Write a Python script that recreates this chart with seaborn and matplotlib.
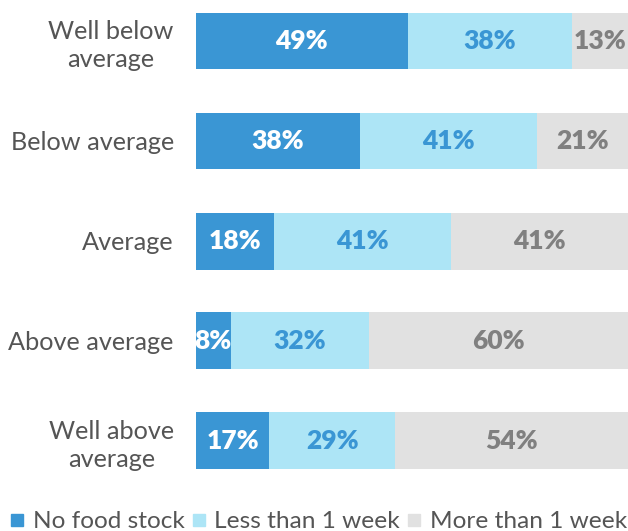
import matplotlib
matplotlib.use("Agg")
import matplotlib.pyplot as plt
from matplotlib.lines import Line2D
import numpy as np
import pandas as pd
import seaborn as sns

categories = ["Well below\naverage", "Below average", "Average", "Above average", "Well above\naverage"]
no_stock = [49, 38, 18, 8, 17]
less_week = [38, 41, 41, 32, 29]
more_week = [13, 21, 41, 60, 54]
series_names = ["No food stock", "Less than 1 week", "More than 1 week"]

c_dark = "#3a96d4"
c_light = "#ade5f6"
c_gray = "#e1e1e1"
txt_gray = "#555555"

sns.set_theme(style="white")
plt.rcParams["font.family"] = ["Lato", "DejaVu Sans"]

df = pd.DataFrame({"cat": categories, "no": no_stock, "less": less_week, "more": more_week})
df["c1"] = df["no"]
df["c2"] = df["no"] + df["less"]
df["c3"] = df["c2"] + df["more"]

fig = plt.figure(figsize=(6.28, 5.31), dpi=100)
ax = fig.add_axes([196 / 628, 50 / 531, 432 / 628, 481 / 531])

for col, color in [("c3", c_gray), ("c2", c_light), ("c1", c_dark)]:
    sns.barplot(data=df, x=col, y="cat", orient="h", color=color, width=0.57,
                saturation=1, ax=ax, linewidth=0)

ax.set_xlim(0, 100)
ax.set_ylim(4.4, -0.41)
ax.set_xlabel("")
ax.set_ylabel("")
ax.set_xticks([])
for s in ax.spines.values():
    s.set_visible(False)
ax.tick_params(axis="y", length=0, pad=16, labelsize=18.2, labelcolor=txt_gray)
for lab in ax.get_yticklabels():
    lab.set_multialignment("center")
    lab.set_linespacing(1.27)

for i in range(len(categories)):
    starts = [0, no_stock[i], no_stock[i] + less_week[i]]
    vals = [no_stock[i], less_week[i], more_week[i]]
    colors = ["white", c_dark, "#808080"]
    for s, v, tc in zip(starts, vals, colors):
        ax.text(s + v / 2, i, f"{v}%", ha="center", va="center", color=tc,
                fontsize=19, fontweight="heavy")

handles = [Line2D([0], [0], marker="s", linestyle="", markersize=9,
                  markerfacecolor=c, markeredgecolor=c) for c in (c_dark, c_light, c_gray)]
fig.legend(handles, series_names, loc="lower left", bbox_to_anchor=(0.016, -0.002),
           ncol=3, frameon=False, handlelength=0.6, handletextpad=0.35,
           columnspacing=0.25, borderpad=0, borderaxespad=0.0,
           prop={"size": 17.6}, labelcolor=txt_gray)

fig.savefig("out.png", dpi=100)
